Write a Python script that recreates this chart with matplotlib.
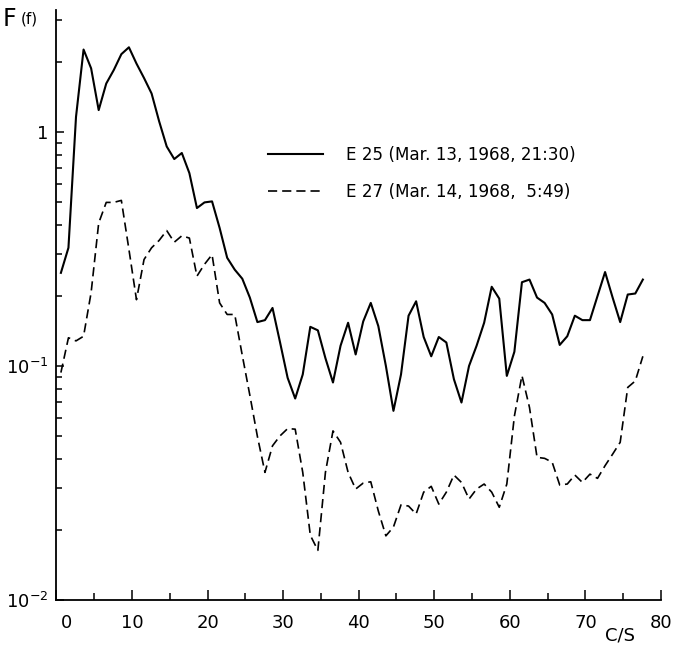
import numpy as np
import matplotlib
matplotlib.use("Agg")
import matplotlib.pyplot as plt
from matplotlib.ticker import LogLocator, NullFormatter, FixedLocator
from matplotlib.transforms import ScaledTranslation

plt.rcParams['font.family'] = ['DejaVu Sans']

# frequency (c/s) of each spectral estimate
freq = np.arange(78) + 0.6

e25 = [0.25, 0.32, 1.16, 2.25, 1.87, 1.24, 1.61, 1.84, 2.15, 2.30,
       1.96, 1.70, 1.46, 1.11, 0.867, 0.766, 0.813, 0.667, 0.473, 0.50,
       0.505, 0.389, 0.290, 0.258, 0.236, 0.196, 0.154, 0.157, 0.177, 0.126,
       0.089, 0.0726, 0.092, 0.147, 0.142, 0.108, 0.085, 0.122, 0.153, 0.112,
       0.155, 0.186, 0.148, 0.100, 0.0643, 0.092, 0.164, 0.189, 0.133, 0.110,
       0.133, 0.126, 0.0878, 0.0698, 0.100, 0.122, 0.153, 0.218, 0.194, 0.0907,
       0.115, 0.228, 0.234, 0.196, 0.186, 0.166, 0.123, 0.134, 0.164, 0.157,
       0.157, 0.199, 0.252, 0.196, 0.154, 0.202, 0.204, 0.234]

e27 = [0.0937, 0.132, 0.128, 0.134, 0.206, 0.408, 0.50, 0.50, 0.51, 0.315,
       0.192, 0.285, 0.32, 0.344, 0.379, 0.338, 0.36, 0.352, 0.242, 0.272,
       0.299, 0.186, 0.166, 0.166, 0.111, 0.075, 0.050, 0.0351, 0.0456, 0.0503,
       0.054, 0.0537, 0.0351, 0.0189, 0.0163, 0.0351, 0.0528, 0.0472, 0.0351, 0.0298,
       0.0316, 0.032, 0.0240, 0.0188, 0.0205, 0.0255, 0.0252, 0.0233, 0.0289, 0.0306,
       0.0257, 0.0289, 0.0342, 0.0318, 0.027, 0.0298, 0.0313, 0.0289, 0.0249, 0.0313,
       0.061, 0.0910, 0.0665, 0.0407, 0.0403, 0.0388, 0.031, 0.0313, 0.0342, 0.0318,
       0.0345, 0.0331, 0.0375, 0.042, 0.0472, 0.081, 0.0863, 0.110]

labels = ["E 25 (Mar. 13, 1968, 21:30)", "E 27 (Mar. 14, 1968,  5:49)"]
xticks = [0, 10, 20, 30, 40, 50, 60, 70, 80]

W, H = 683, 646
fig = plt.figure(figsize=(W / 100, H / 100), dpi=100)
x0, x1 = 55.6, 661.0
ytop, ybot = 10.0, 600.0
ax = fig.add_axes([x0 / W, (H - ybot) / H, (x1 - x0) / W, (ybot - ytop) / H])

ax.plot(freq, e25, color='black', lw=1.5, label=labels[0])
ax.plot(freq, e27, color='black', lw=1.2, linestyle=(0, (5.5, 3)), label=labels[1])

ax.set_yscale('log')
ax.set_ylim(0.01, 3.32)
ax.set_xlim(-0.1, 80)

ax.spines['top'].set_visible(False)
ax.spines['right'].set_visible(False)
for s in ('left', 'bottom'):
    ax.spines[s].set_linewidth(1.3)

ax.yaxis.set_major_locator(FixedLocator([0.01, 0.1, 1]))
ax.set_yticklabels([r'$10^{-2}$', r'$10^{-1}$', '1'])
ax.yaxis.set_minor_locator(LogLocator(base=10, subs=np.arange(2, 10)))
ax.yaxis.set_minor_formatter(NullFormatter())

ax.set_xticks(xticks)
ax.set_xticklabels([str(t) for t in xticks])
ax.set_xticks(np.arange(5, 80, 10), minor=True)

ax.tick_params(axis='both', which='both', direction='in', width=1.1)
ax.tick_params(axis='x', which='major', length=7, pad=10, labelsize=13)
ax.tick_params(axis='x', which='minor', length=5)
ax.tick_params(axis='y', which='major', length=6, pad=5, labelsize=13)
ax.tick_params(axis='y', which='minor', length=4)

# the hand-lettered "0" sits a little right of its tick
lab0 = ax.get_xticklabels()[0]
lab0.set_transform(lab0.get_transform() + ScaledTranslation(0.10, 0, fig.dpi_scale_trans))

fig.text(620 / W, 1 - 636 / H, 'C/S', ha='center', va='center', fontsize=13)
fig.text(3 / W, 1 - 19 / H, 'F', ha='left', va='center', fontsize=17)
fig.text(21 / W, 1 - 19 / H, '(f)', ha='left', va='center', fontsize=11)

fs = 12.1
leg = ax.legend(loc='upper left', bbox_to_anchor=(268 / W, 1 - 146 / H),
                bbox_transform=fig.transFigure, frameon=False, fontsize=fs,
                handlelength=55 / (fs * 100 / 72), handletextpad=23 / (fs * 100 / 72),
                labelspacing=1.15, borderpad=0, borderaxespad=0)

fig.savefig('out.png', dpi=100)
